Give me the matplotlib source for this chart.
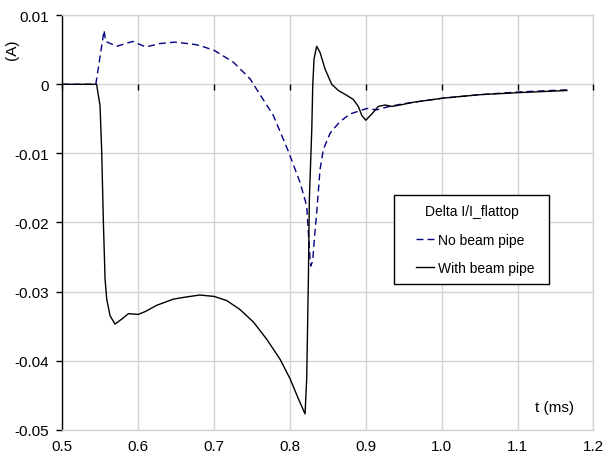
import matplotlib
matplotlib.use("Agg")
import matplotlib.pyplot as plt
from matplotlib.lines import Line2D
from matplotlib.legend_handler import HandlerLine2D

plt.rcParams['font.family'] = ['Liberation Sans', 'DejaVu Sans']

# Time axis (ms) and relative current deviation (A)
t_with = [0.50, 0.545, 0.5496, 0.5518, 0.554, 0.5562, 0.5584, 0.5628, 0.5693, 0.578,
          0.587, 0.600, 0.609, 0.624, 0.646, 0.662, 0.681, 0.700, 0.7166, 0.7341,
          0.7517, 0.7693, 0.7869, 0.800, 0.811, 0.8198, 0.822, 0.8242, 0.8255, 0.8287,
          0.830, 0.8317, 0.8352, 0.8396, 0.8462, 0.855, 0.8638, 0.8748, 0.8835, 0.890,
          0.8946, 0.8999, 0.9078, 0.9165, 0.9253, 0.9341, 0.945, 0.9626, 1.002, 1.0506,
          1.103, 1.165]
i_with = [0.0, 0.0, -0.0031, -0.0098, -0.0200, -0.0282, -0.0311, -0.0335, -0.0347, -0.0340,
          -0.0332, -0.0333, -0.0329, -0.0320, -0.0311, -0.0308, -0.0305, -0.0307, -0.0313, -0.0326,
          -0.0344, -0.0369, -0.0398, -0.0426, -0.0455, -0.0477, -0.0426, -0.0282, -0.0166, -0.0065,
          0.0, 0.0037, 0.0055, 0.0046, 0.0022, 0.0000, -0.0009, -0.0016, -0.0022, -0.0032,
          -0.0045, -0.0052, -0.0043, -0.0032, -0.0030, -0.0032, -0.0030, -0.0026, -0.0020, -0.0015,
          -0.0012, -0.0009]

t_no = [0.50, 0.544, 0.5549, 0.557, 0.5716, 0.5927, 0.610, 0.6287, 0.648, 0.6726,
        0.6814, 0.7003, 0.7253, 0.7473, 0.7605, 0.778, 0.7978, 0.8132, 0.822, 0.8264,
        0.8275, 0.8300, 0.8320, 0.8352, 0.8396, 0.844, 0.8528, 0.857, 0.866, 0.879,
        0.9012, 0.9144, 0.9276, 0.945, 0.9626, 1.002, 1.0506, 1.103, 1.165]
i_no = [0.0, 0.0, 0.0078, 0.0062, 0.0055, 0.0062, 0.0054, 0.0059, 0.0061, 0.0058,
        0.0056, 0.0049, 0.0032, 0.0008, -0.0015, -0.0045, -0.0097, -0.0142, -0.0176, -0.0253,
        -0.0263, -0.0255, -0.0225, -0.0185, -0.0123, -0.0094, -0.0071, -0.0065, -0.0054, -0.0043,
        -0.0035, -0.0037, -0.0033, -0.0029, -0.0026, -0.0020, -0.0015, -0.0011, -0.0008]

x_ticks = [0.5, 0.6, 0.7, 0.8, 0.9, 1.0, 1.1, 1.2]
x_labels = ['0.5', '0.6', '0.7', '0.8', '0.9', '1.0', '1.1', '1.2']
y_ticks = [0.01, 0.0, -0.01, -0.02, -0.03, -0.04, -0.05]
y_labels = ['0.01', '0', '-0.01', '-0.02', '-0.03', '-0.04', '-0.05']

fig = plt.figure(figsize=(6.09, 4.64), dpi=100)
ax = fig.add_axes([0.1025, 0.0716, 0.872, 0.8935])

grid_c = '#d4d4d4'
ax.set_xlim(0.5, 1.2)
ax.set_ylim(-0.05, 0.01)
ax.set_xticks(x_ticks)
ax.set_xticklabels(x_labels)
ax.set_yticks(y_ticks)
ax.set_yticklabels(y_labels)
ax.grid(True, color=grid_c, linewidth=1.0)
ax.set_axisbelow(True)
for s in ('top', 'right', 'bottom'):
    ax.spines[s].set_color(grid_c)
    ax.spines[s].set_linewidth(1.0)
ax.spines['left'].set_color('black')
ax.spines['left'].set_linewidth(1.0)
ax.tick_params(axis='x', length=0, pad=7, labelsize=11)
ax.tick_params(axis='y', length=4, width=1, direction='out', pad=6, labelsize=11)

# x axis crossing at zero, with its own tick marks
zero_frac = (0 - (-0.05)) / 0.06
sec = ax.secondary_xaxis(zero_frac)
sec.set_zorder(3)
sec.set_xticks(x_ticks)
sec.tick_params(axis='x', direction='out', length=4, width=1, color='black',
                labelbottom=False, labeltop=False, top=False, bottom=True)
sec.spines['bottom'].set_color('black')
sec.spines['bottom'].set_linewidth(1.0)
sec.spines['top'].set_visible(False)

ax.plot(t_no, i_no, color='#000080', linewidth=1.0, linestyle=(0, (5, 3)),
        label='No beam pipe', zorder=3)
ax.plot(t_with, i_with, color='black', linewidth=1.0, label='With beam pipe', zorder=4)

leg = ax.legend(title='Delta I/I_flattop', loc='upper left',
                bbox_to_anchor=(0.625, 0.354, 0.292, 0.212), mode='expand',
                borderaxespad=0, fontsize=10, title_fontsize=10, fancybox=False,
                framealpha=1, edgecolor='black', handlelength=2.23, handletextpad=0.29,
                borderpad=0.65, labelspacing=1.05,
                handler_map={Line2D: HandlerLine2D(xpad=0.94)})
leg.get_frame().set_linewidth(1.0)

ax.text(0.9275, 0.0557, 't (ms)', transform=ax.transAxes, ha='center', va='center', fontsize=11)
fig.text(12 / 609, 1 - 50 / 464, '(A)', rotation=90, ha='center', va='center', fontsize=11)

fig.savefig('out.png', dpi=100)
